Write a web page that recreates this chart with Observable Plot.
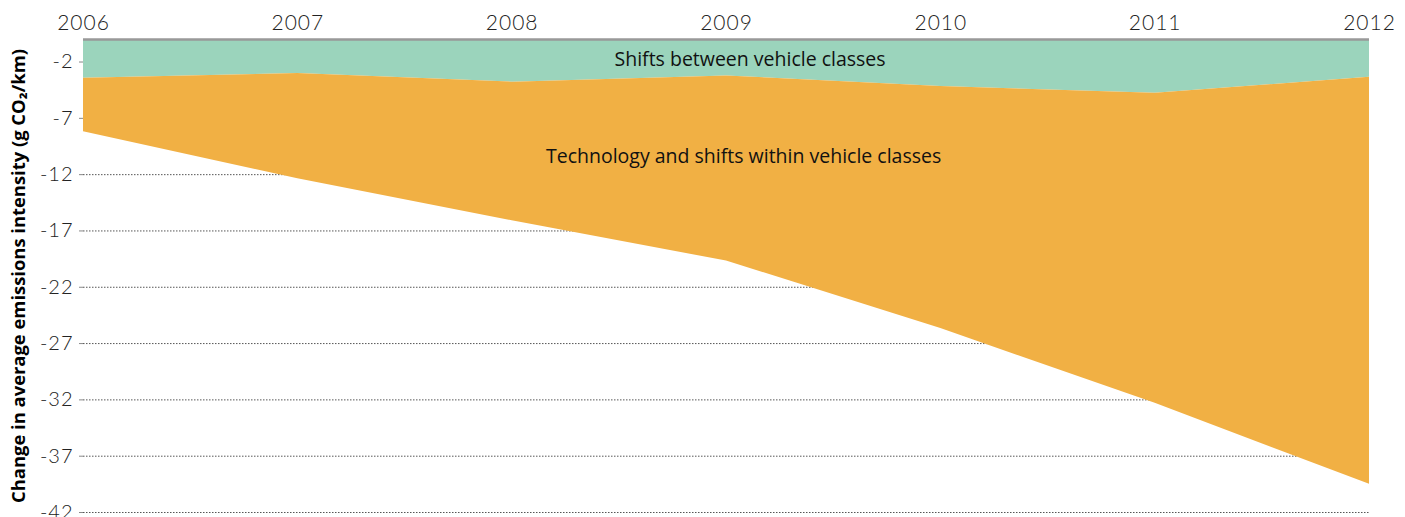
<!DOCTYPE html>
<html>
<head>
<meta charset="utf-8">
<script src="https://cdn.jsdelivr.net/npm/d3@7"></script>
<script src="https://cdn.jsdelivr.net/npm/@observablehq/plot@0.6"></script>
<style>
  html, body { margin: 0; padding: 0; background: #fff; }
  #chart svg { display: block; }
  #chart [aria-label="y-axis label"] text { font-weight: 700; font-family: "Open Sans", sans-serif; font-size: 18.4px; fill: #000; }
  #chart [aria-label="y-axis tick label"] text, #chart [aria-label="x-axis tick label"] text { font-family: Lato, sans-serif; font-weight: 300; letter-spacing: 1px; fill: #222; }
</style>
</head>
<body>
<div id="chart"></div>
<script>
const years = [2006, 2007, 2008, 2009, 2010, 2011, 2012];
const seriesNames = ["Shifts between vehicle classes", "Technology and shifts within vehicle classes"];
// change in average emissions intensity (g CO2/km)
const shiftsBetween = [-3.45, -3.02, -3.79, -3.24, -4.17, -4.78, -3.36];
const techWithin = [-4.75, -9.34, -12.31, -16.43, -21.5, -27.52, -36.14];
const seriesColors = ["#9bd4bc", "#f1b044"];
const yTicks = [-2, -7, -12, -17, -22, -27, -32, -37, -42];
// annotation anchors (year, value)
const labelYears = [2009.11, 2009.08];
const labelValues = [-1.8, -10.4];

const data = years.flatMap((year, i) => [
  {year, series: seriesNames[0], value: shiftsBetween[i]},
  {year, series: seriesNames[1], value: techWithin[i]}
]);
const labels = seriesNames.map((name, i) => ({name, year: labelYears[i], value: labelValues[i]}));

const chart = Plot.plot({
  width: 1405,
  height: 517,
  marginLeft: 83,
  marginRight: 36,
  marginTop: 39,
  marginBottom: 5,
  style: {fontFamily: "Lato, sans-serif", fontSize: "20px", color: "#222", background: "#fff"},
  x: {domain: [2006, 2012], ticks: years, tickFormat: d3.format("d")},
  y: {domain: [-42, 0]},
  color: {domain: seriesNames, range: seriesColors},
  marks: [
    Plot.gridY(yTicks, {stroke: "#444", strokeOpacity: 0.9, strokeDasharray: "1.5,1.5", strokeWidth: 1}),
    Plot.areaY(data, {x: "year", y: "value", fill: "series", order: seriesNames}),
    Plot.ruleY([0], {stroke: "#999", strokeWidth: 2.5}),
    Plot.axisX({anchor: "top", ticks: years, tickSize: 0, tickPadding: 10, tickFormat: d3.format("d"), fontSize: 21, label: null}),
    Plot.axisY({anchor: "left", ticks: yTicks, tickSize: 4, tickPadding: 6, stroke: "#888", fontSize: 20, tickFormat: d => String(d), label: "Change in average emissions intensity (g CO₂/km)", labelAnchor: "center", labelArrow: "none", labelOffset: 72}),
    Plot.text(labels, {x: "year", y: "value", text: "name", fill: "#111", fontSize: 19.5, fontFamily: "'Open Sans', sans-serif"})
  ]
});
document.getElementById("chart").appendChild(chart);
</script>
</body>
</html>
